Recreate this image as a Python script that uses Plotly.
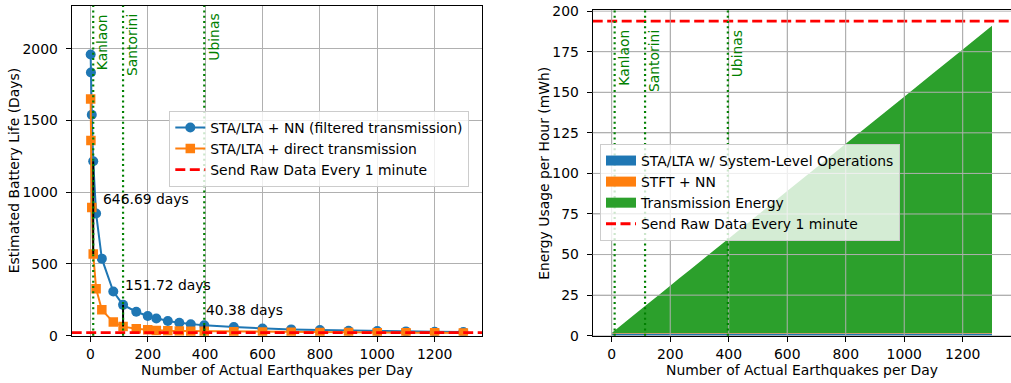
import plotly.graph_objects as go

# ---------------- data ----------------
quakes_per_day = [1, 2, 5, 10, 20, 40, 80, 114, 160, 200, 230, 270, 310, 350, 397,
                  500, 600, 700, 800, 900, 1000, 1100, 1200, 1300]
life_filtered = [1960, 1835, 1540, 1216, 852, 537, 308, 215, 167, 137, 120, 102, 90, 80, 72,
                 60, 50, 44, 39, 35, 32, 30, 28, 26]
life_direct = [1650, 1361, 893, 569.31, 328, 180, 95, 63.28, 48, 41, 37, 34, 32.5, 31.8, 31.62,
               27, 25, 23.5, 22.5, 21.5, 21, 20.5, 20, 19.5]
raw_life_days = 22

energy_sta_lta = [1.4] * 24
energy_stft_nn = [0.3] * 24
energy_transmission = [0.15, 0.29, 0.73, 1.46, 2.9, 5.8, 11.6, 16.6, 23.3, 29.1, 33.5, 39.3, 45.1, 51.0, 57.8,
                       72.8, 87.4, 101.9, 116.5, 131.0, 145.6, 160.2, 174.7, 189.3]
raw_energy = 193.8

volcano_names = ["Kanlaon", "Santorini", "Ubinas"]
volcano_x = [10, 114, 397]
diff_labels = ["646.69 days", "151.72 days", "40.38 days"]
diff_label_pos = [(38, 944), (113, 347), (395, 172)]

x_ticks = [0, 200, 400, 600, 800, 1000, 1200]
y1_ticks = [0, 500, 1000, 1500, 2000]
y2_ticks = [0, 25, 50, 75, 100, 125, 150, 175, 200]
x_range = [-65, 1365]
y1_range = [0, 2300]
y2_range = [0, 200.5]

W, H = 1011, 383
FONT = "DejaVu Sans, Arial, sans-serif"
FS = 13.9
BLUE, ORANGE, GREEN, RED = "#1f77b4", "#ff7f0e", "#2ca02c", "#ff0000"
VGREEN = "#008000"
GRID = "#b0b0b0"
RED_DASH = "10px,4.5px"

fig = go.Figure()

# ---------------- left panel ----------------
fig.add_trace(go.Scatter(
    x=quakes_per_day, y=life_filtered, mode="lines+markers",
    name="STA/LTA + NN (filtered transmission)",
    line=dict(color=BLUE, width=2), marker=dict(color=BLUE, size=10, symbol="circle"),
    xaxis="x", yaxis="y", legend="legend"))
fig.add_trace(go.Scatter(
    x=quakes_per_day, y=life_direct, mode="lines+markers",
    name="STA/LTA + direct transmission",
    line=dict(color=ORANGE, width=2), marker=dict(color=ORANGE, size=9.5, symbol="square"),
    xaxis="x", yaxis="y", legend="legend"))

# black difference lines at volcano positions
ex, ey = [], []
for vx in volcano_x:
    i = quakes_per_day.index(vx)
    ex += [vx, vx, None]
    ey += [life_direct[i], life_filtered[i], None]
fig.add_trace(go.Scatter(x=ex, y=ey, mode="lines", line=dict(color="black", width=2),
                         showlegend=False, xaxis="x", yaxis="y", hoverinfo="skip"))

fig.add_trace(go.Scatter(
    x=x_range, y=[raw_life_days, raw_life_days], mode="lines",
    name="Send Raw Data Every 1 minute",
    line=dict(color=RED, width=2.8, dash=RED_DASH),
    xaxis="x", yaxis="y", legend="legend"))

# ---------------- right panel ----------------
stack_series = [("STA/LTA w/ System-Level Operations", energy_sta_lta, BLUE),
                ("STFT + NN", energy_stft_nn, ORANGE),
                ("Transmission Energy", energy_transmission, GREEN)]
for name, vals, col in stack_series:
    fig.add_trace(go.Scatter(
        x=quakes_per_day, y=vals, stackgroup="s", mode="none",
        fillcolor=col, name=name, showlegend=False,
        xaxis="x2", yaxis="y2"))
# legend-only entries with rectangular swatches
for name, vals, col in stack_series:
    fig.add_trace(go.Scatter(
        x=[None], y=[None], mode="lines", line=dict(color=col, width=10),
        name=name, xaxis="x2", yaxis="y2", legend="legend2"))

# grid lines drawn above fills in the right panel (as in reference)
for t in x_ticks:
    fig.add_shape(type="line", xref="x2", yref="y2 domain", x0=t, x1=t, y0=0, y1=1,
                  line=dict(color=GRID, width=1), layer="above")
for t in y2_ticks:
    fig.add_shape(type="line", xref="x2 domain", yref="y2", x0=0, x1=1, y0=t, y1=t,
                  line=dict(color=GRID, width=1), layer="above")

fig.add_trace(go.Scatter(
    x=x_range, y=[raw_energy, raw_energy], mode="lines",
    name="Send Raw Data Every 1 minute",
    line=dict(color=RED, width=2.8, dash=RED_DASH),
    xaxis="x2", yaxis="y2", legend="legend2"))

# volcano vertical lines + labels
for xa, ya, label_y in (("x", "y", 1 - 12 / H), ("x2", "y2", 1 - 28 / H)):
    for name, vx in zip(volcano_names, volcano_x):
        fig.add_shape(type="line", xref=xa, yref=ya + " domain", x0=vx, x1=vx, y0=0, y1=1,
                      line=dict(color=VGREEN, width=2.2, dash="2px,3.3px"), layer="above")
        fig.add_annotation(x=vx, y=label_y, xref=xa, yref="paper", text=name,
                           textangle=-90, showarrow=False, xanchor="left", yanchor="top",
                           xshift=-1, font=dict(color=VGREEN, size=FS, family=FONT))

for txt, (tx, ty) in zip(diff_labels, diff_label_pos):
    fig.add_annotation(x=tx, y=ty, xref="x", yref="y", text=txt, showarrow=False,
                       xanchor="left", yanchor="middle", yshift=1,
                       font=dict(color="black", size=FS, family=FONT))

# axis titles
fig.add_annotation(x=276.9 / W, y=1 - 370 / H, xref="paper", yref="paper",
                   text="Number of Actual Earthquakes per Day", showarrow=False,
                   xanchor="center", yanchor="middle", font=dict(size=FS, family=FONT, color="black"))
fig.add_annotation(x=801.9 / W, y=1 - 370 / H, xref="paper", yref="paper",
                   text="Number of Actual Earthquakes per Day", showarrow=False,
                   xanchor="center", yanchor="middle", font=dict(size=FS, family=FONT, color="black"))
fig.add_annotation(x=13.5 / W, y=1 - 170.7 / H, xref="paper", yref="paper",
                   text="Estimated Battery Life (Days)", showarrow=False, textangle=-90,
                   xanchor="center", yanchor="middle", font=dict(size=FS, family=FONT, color="black"))
fig.add_annotation(x=543.8 / W, y=1 - 173 / H, xref="paper", yref="paper",
                   text="Energy Usage per Hour (mWh)", showarrow=False, textangle=-90,
                   xanchor="center", yanchor="middle", font=dict(size=FS, family=FONT, color="black"))

axis_common = dict(showgrid=True, gridcolor=GRID, gridwidth=1, zeroline=False,
                   showline=True, linecolor="black", linewidth=1.1, automargin=False,
                   ticks="outside", ticklen=5, tickwidth=1.1, tickcolor="black",
                   tickfont=dict(size=FS, family=FONT, color="black"))

legend_common = dict(bgcolor="rgba(255,255,255,0.8)", bordercolor="#cccccc", borderwidth=1,
                     font=dict(size=FS, family=FONT, color="black"),
                     traceorder="normal", xanchor="left", yanchor="top",
                     itemwidth=30)

fig.update_layout(
    width=W, height=H, margin=dict(l=0, r=0, t=0, b=0, autoexpand=False),
    paper_bgcolor="white", plot_bgcolor="white",
    font=dict(family=FONT, size=FS, color="black"),
    xaxis=dict(domain=[71.7 / W, 482 / W], range=x_range, tickvals=x_ticks, mirror=True,
               anchor="y", ticklabelstandoff=1, **axis_common),
    yaxis=dict(domain=[1 - 335.7 / H, 1 - 5.7 / H], range=y1_range, tickvals=y1_ticks, mirror=True,
               anchor="x", ticklabelstandoff=5, **axis_common),
    xaxis2=dict(domain=[592.7 / W, 1.0], range=x_range, tickvals=x_ticks, mirror=True,
                anchor="y2", ticklabelstandoff=1, **axis_common),
    yaxis2=dict(domain=[1 - 335.7 / H, 1 - 10.3 / H], range=y2_range, tickvals=y2_ticks, mirror=False,
                anchor="x2", ticklabelstandoff=5, **axis_common),
    legend=dict(x=169.3 / W, y=1 - 111 / H, **legend_common),
    legend2=dict(x=600 / W, y=1 - 144 / H, **legend_common),
)

fig.write_html("out.html")
